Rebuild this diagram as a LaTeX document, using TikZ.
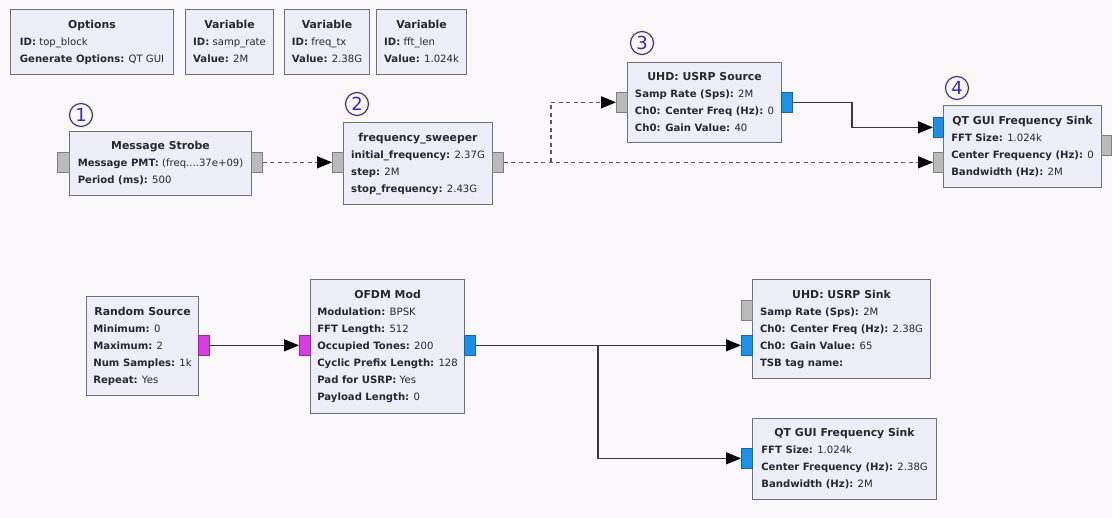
\documentclass[tikz,border=0pt]{standalone}
\usepackage{fontspec}
\setmainfont{DejaVu Sans}
\usetikzlibrary{arrows.meta}

\definecolor{canvas}{RGB}{251,248,251}
\definecolor{blkfill}{RGB}{238,238,248}
\definecolor{blkline}{RGB}{112,112,118}
\definecolor{blktext}{RGB}{40,40,44}
\definecolor{portgrey}{RGB}{187,187,187}
\definecolor{portgreyline}{RGB}{128,128,128}
\definecolor{portblue}{RGB}{30,144,232}
\definecolor{portblueline}{RGB}{22,100,170}
\definecolor{portmag}{RGB}{212,62,226}
\definecolor{portmagline}{RGB}{150,40,160}
\definecolor{wirecol}{RGB}{58,58,58}
\definecolor{dashcol}{RGB}{90,90,90}
\definecolor{numblue}{RGB}{45,45,205}
\definecolor{numglow}{RGB}{250,240,175}

% block body: centred bold title over left-aligned parameter lines
\newcommand\blkbody[2]{\begin{tabular}{@{}l@{}}%
  \multicolumn{1}{@{}c@{}}{\fontsize{10.9}{17}\selectfont\bfseries #1}\\ #2\end{tabular}}
\newcommand\blkprm[2]{\textbf{#1:} #2}

\begin{document}
\begin{tikzpicture}[x=1pt,y=-1pt,
  blk/.style={draw=blkline, fill=blkfill, line width=1.1pt, inner sep=0pt,
    anchor=north west, text=blktext,
    font=\fontsize{10.1}{17}\selectfont},
  port/.style={line width=0.7pt, inner sep=0pt, anchor=north west,
    minimum width=11pt, minimum height=20pt},
  gport/.style={port, draw=portgreyline, fill=portgrey},
  bport/.style={port, draw=portblueline, fill=portblue},
  mport/.style={port, draw=portmagline, fill=portmag},
  tip/.style={-{Triangle[length=15pt,width=12pt,color=black]}},
  wire/.style={draw=wirecol, line width=1.2pt, tip},
  dwire/.style={draw=dashcol, line width=1.2pt, dash pattern=on 4pt off 3.5pt},
  num/.style={circle, draw=numblue, text=numblue, line width=1.1pt,
    minimum size=23pt, inner sep=0pt, font=\fontsize{18}{18}\selectfont,
    preaction={draw=numglow, line width=3.2pt}}
]
\fill[canvas] (0,0) rectangle (1112,518);
\useasboundingbox (0,0) rectangle (1112,518);

% ---- top row: options and variables
\node[blk, minimum width=163, minimum height=65] (opts) at (10,9)
  {\blkbody{Options}{\blkprm{ID}{top\_block}\\ \blkprm{Generate Options}{QT GUI}}};
\node[blk, minimum width=88, minimum height=65] (vsamp) at (185,9)
  {\blkbody{Variable}{\blkprm{ID}{samp\_rate}\\ \blkprm{Value}{2M}}};
\node[blk, minimum width=85, minimum height=65] (vfreq) at (284,9)
  {\blkbody{Variable}{\blkprm{ID}{freq\_tx}\\ \blkprm{Value}{2.38G}}};
\node[blk, minimum width=90, minimum height=65] (vfft) at (376,9)
  {\blkbody{Variable}{\blkprm{ID}{fft\_len}\\ \blkprm{Value}{1.024k}}};

% ---- receive chain
\node[blk, minimum width=182, minimum height=64] (ms) at (69,131)
  {\blkbody{Message Strobe}{\blkprm{Message PMT}{(freq....37e+09)}\\ \blkprm{Period (ms)}{500}}};
\node[blk, minimum width=149, minimum height=82] (fs) at (343,122)
  {\blkbody{frequency\_sweeper}{\blkprm{initial\_frequency}{2.37G}\\ \blkprm{step}{2M}\\ \blkprm{stop\_frequency}{2.43G}}};
\node[blk, minimum width=154, minimum height=80] (usrc) at (627,62)
  {\blkbody{UHD: USRP Source}{\blkprm{Samp Rate (Sps)}{2M}\\ \blkprm{Ch0: Center Freq (Hz)}{0}\\ \blkprm{Ch0: Gain Value}{40}}};
\node[blk, minimum width=158, minimum height=82] (qsa) at (943,105)
  {\blkbody{QT GUI Frequency Sink}{\blkprm{FFT Size}{1.024k}\\ \blkprm{Center Frequency (Hz)}{0}\\ \blkprm{Bandwidth (Hz)}{2M}}};

% ---- transmit chain
\node[blk, minimum width=112, minimum height=99] (rs) at (86,296)
  {\blkbody{Random Source}{\blkprm{Minimum}{0}\\ \blkprm{Maximum}{2}\\ \blkprm{Num Samples}{1k}\\ \blkprm{Repeat}{Yes}}};
\node[blk, minimum width=154, minimum height=134] (ofdm) at (310,279)
  {\blkbody{OFDM Mod}{\blkprm{Modulation}{BPSK}\\ \blkprm{FFT Length}{512}\\ \blkprm{Occupied Tones}{200}\\ \blkprm{Cyclic Prefix Length}{128}\\ \blkprm{Pad for USRP}{Yes}\\ \blkprm{Payload Length}{0}}};
\node[blk, minimum width=178, minimum height=99] (usnk) at (752,279)
  {\blkbody{UHD: USRP Sink}{\blkprm{Samp Rate (Sps)}{2M}\\ \blkprm{Ch0: Center Freq (Hz)}{2.38G}\\ \blkprm{Ch0: Gain Value}{65}\\ \blkprm{TSB tag name}{}}};
\node[blk, minimum width=184, minimum height=81] (qsb) at (752,418)
  {\blkbody{QT GUI Frequency Sink}{\blkprm{FFT Size}{1.024k}\\ \blkprm{Center Frequency (Hz)}{2.38G}\\ \blkprm{Bandwidth (Hz)}{2M}}};

% ---- ports
\node[gport, minimum width=12pt] (msin) at (57,152) {};
\node[gport] (msout) at (251,152) {};
\node[gport] (fsin) at (332,152) {};
\node[gport] (fsout) at (492,152) {};
\node[gport] (usrcin) at (616,92) {};
\node[bport] (usrcout) at (781,92) {};
\node[bport, minimum width=10pt] (qsain) at (933,117) {};
\node[gport, minimum width=10pt] (qsafreq) at (933,152) {};
\node[gport, minimum width=10pt] (qsaout) at (1101,135) {};
\node[mport] (rsout) at (198,335) {};
\node[mport] (ofdmin) at (299,335) {};
\node[bport] (ofdmout) at (464,335) {};
\node[gport] (usnkcmd) at (741,300) {};
\node[bport] (usnkin) at (741,335) {};
\node[bport] (qsbin) at (741,448) {};

% ---- message connections (dashed)
\coordinate (split1) at (551,162);
\draw[dwire, tip] (msout.east) -- (fsin.west);
\draw[dwire, tip] (fsout.east) -- (qsafreq.west);
\draw[dwire, tip] (split1) |- (usrcin.west);

% ---- stream connections
\coordinate (bend1) at (852,114);
\draw[wire] (usrcout.east) -| (bend1) |- (qsain.west);
\draw[wire] (rsout.east) -- (ofdmin.west);
\coordinate (split2) at (598,345);
\draw[wire] (ofdmout.east) -- (usnkin.west);
\draw[wire] (split2) |- (qsbin.west);

% ---- numbered markers
\node[num] (n1) at (81,115) {1};
\node[num] (n2) at (357,104) {2};
\node[num] (n3) at (642,43) {3};
\node[num] (n4) at (957,88) {4};
\end{tikzpicture}
\end{document}
